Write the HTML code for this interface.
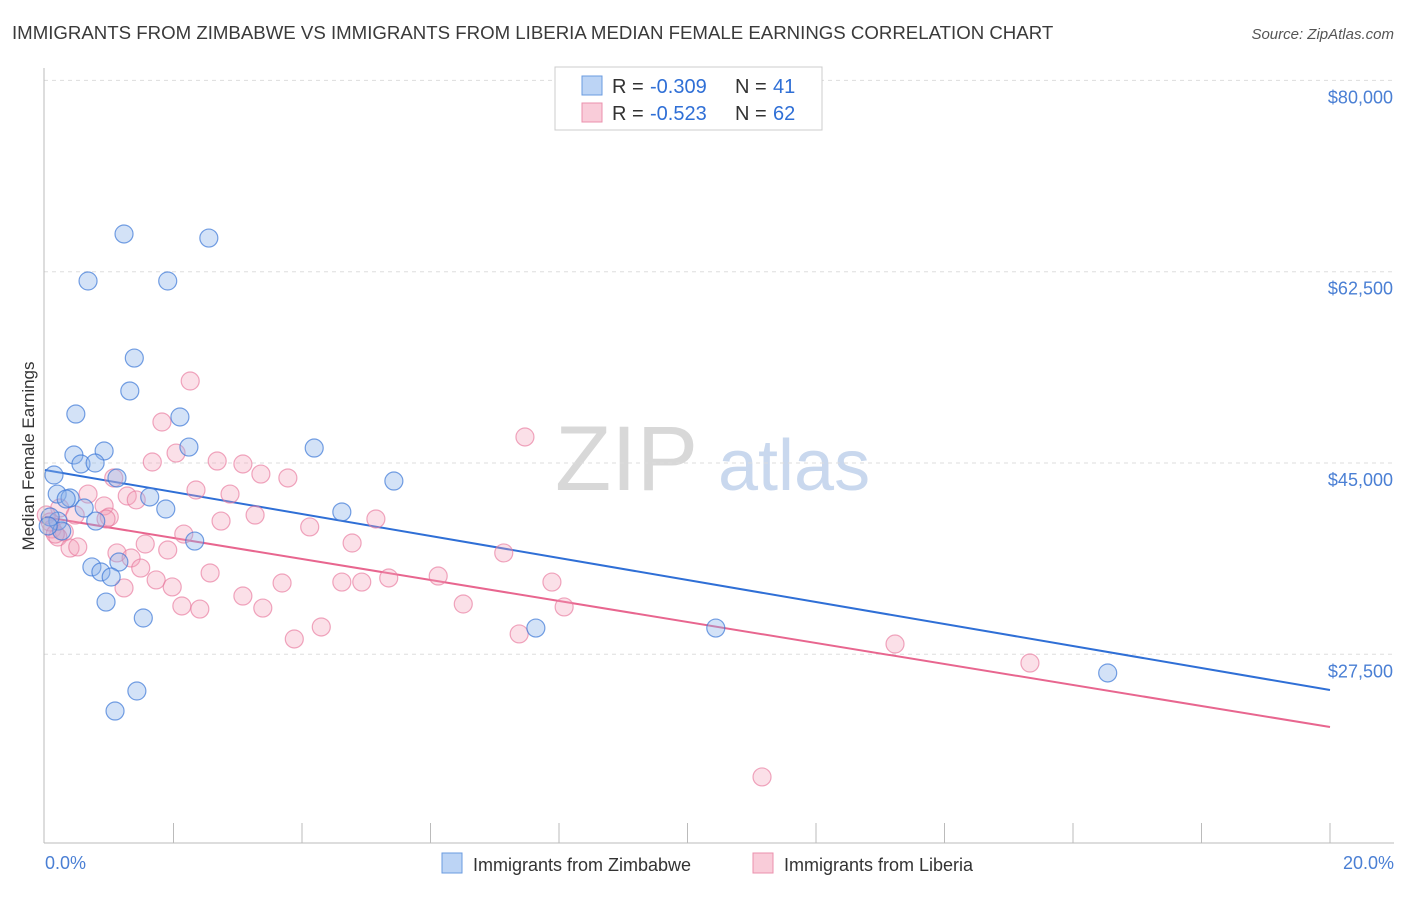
<!DOCTYPE html>
<html><head><meta charset="utf-8"><style>
body{margin:0;background:#fff;font-family:"Liberation Sans",sans-serif}
svg text{font-family:"Liberation Sans",sans-serif}
</style></head><body>
<svg id="chart" width="1406" height="892" xmlns="http://www.w3.org/2000/svg">
<text x="12" y="39" font-size="18.65" fill="#3a3a3a">IMMIGRANTS FROM ZIMBABWE VS IMMIGRANTS FROM LIBERIA MEDIAN FEMALE EARNINGS CORRELATION CHART</text>
<text x="1394" y="39" font-size="15" fill="#555" font-style="italic" text-anchor="end">Source: ZipAtlas.com</text>
<text transform="translate(34,456) rotate(-90)" font-size="17" fill="#333" text-anchor="middle">Median Female Earnings</text>
<g><text x="555" y="490" font-size="92" fill="#d8d8d8" font-family="Liberation Serif">ZIP</text><text x="718" y="490" font-size="72" fill="#c9d8ee">atlas</text></g>
<g id="grid"></g><g id="ticks"></g><g id="trend"></g><g id="pts"></g>
<line x1="44" y1="68" x2="44" y2="843" stroke="#bbb"/>
<line x1="44" y1="843" x2="1394" y2="843" stroke="#bbb"/>
<text x="45" y="869" font-size="18" fill="#4a7fd4">0.0%</text>
<text x="1394" y="869" font-size="18" fill="#4a7fd4" text-anchor="end">20.0%</text>
<g>
<rect x="555" y="67" width="267" height="63" fill="#fff" stroke="#ccc"/>
<rect x="582" y="76" width="20" height="19" fill="#bcd4f5" stroke="#6a9be0"/>
<rect x="582" y="103" width="20" height="19" fill="#f9ccd9" stroke="#eb90ad"/>
<text x="612" y="93" font-size="20" fill="#333">R =</text>
<text x="650" y="93" font-size="20" fill="#2f6fd6">-0.309</text>
<text x="735" y="93" font-size="20" fill="#333">N =</text>
<text x="773" y="93" font-size="20" fill="#2f6fd6">41</text>
<text x="612" y="120" font-size="20" fill="#333">R =</text>
<text x="650" y="120" font-size="20" fill="#2f6fd6">-0.523</text>
<text x="735" y="120" font-size="20" fill="#333">N =</text>
<text x="773" y="120" font-size="20" fill="#2f6fd6">62</text>
</g>
<g>
<rect x="442" y="853" width="20" height="20" fill="#bcd4f5" stroke="#6a9be0"/>
<text x="473" y="871" font-size="18" fill="#333">Immigrants from Zimbabwe</text>
<rect x="753" y="853" width="20" height="20" fill="#f9ccd9" stroke="#eb90ad"/>
<text x="784" y="871" font-size="18" fill="#333">Immigrants from Liberia</text>
</g>
</svg>
<script>
const blueX=[1.23,2.55,0.67,1.91,1.39,1.32,0.48,2.10,0.45,0.92,2.24,4.19,0.56,0.78,0.14,5.43,1.12,0.19,0.39,0.33,1.63,0.61,1.88,4.62,0.20,0.79,0.26,2.33,0.73,1.15,0.87,1.03,0.95,1.53,7.64,10.44,16.54,1.43,1.09,0.08,0.05];
const blueY=[65950,65580,61650,61650,54600,51590,49480,49210,45730,46100,46460,46370,44910,45000,43900,43350,43630,42160,41800,41710,41890,40880,40790,40520,39690,39690,38780,37860,35490,35940,35030,34570,32280,30820,29900,29900,25790,24140,22310,40060,39240];
const pinkX=[2.26,7.47,1.82,2.04,1.67,2.68,3.08,3.36,3.78,1.07,0.67,2.35,2.88,1.28,1.42,0.92,0.23,0.02,0.47,1.00,2.74,3.27,5.15,4.12,2.16,0.11,0.30,0.20,0.39,0.51,1.56,1.91,4.78,1.12,1.34,7.14,1.49,2.57,1.73,1.98,5.35,3.69,4.62,4.93,6.12,7.89,1.23,3.08,2.13,2.41,3.39,6.51,8.08,4.30,3.88,7.38,13.23,15.33,11.16,0.08,0.95,0.16];
const pinkY=[52500,47380,48750,45910,45090,45180,44910,43990,43630,43630,42160,42530,42160,41980,41620,41070,40880,40240,40240,40060,39690,40240,39880,39150,38500,38960,38690,38230,37220,37320,37590,37040,37680,36770,36310,36770,35390,34940,34300,33660,34480,34020,34110,34110,34660,34110,33570,32830,31920,31640,31730,32100,31830,30000,28900,29360,28440,26700,16280,39600,39880,38500];
const blueTrend=[44360,24230];
const pinkTrend=[40060,20850];
const yTicks=[80000,62500,45000,27500];
const yTickLabels=["$80,000","$62,500","$45,000","$27,500"];
const xTicks=[2,4,6,8,10,12,14,16,18,20];
const NS="http://www.w3.org/2000/svg";
const sx=v=>45+v*64.25;
const sy=v=>463-(v-45000)*0.010931;
function mk(t,a,p){const e=document.createElementNS(NS,t);for(const k in a)e.setAttribute(k,a[k]);p.appendChild(e);return e;}
const grid=document.getElementById('grid');
yTicks.forEach((v,i)=>{
 const l=mk('line',{x1:44,x2:1394,y1:sy(v),y2:sy(v),stroke:'#ddd','stroke-dasharray':'4,4'},grid);
 
 
 const t=mk('text',{x:1393,y:sy(v)+23,'font-size':18,fill:'#4a7fd4','text-anchor':'end'},grid);
 t.textContent=yTickLabels[i];
 
 
});
const tk=document.getElementById('ticks');
xTicks.forEach(v=>{
 const l=mk('line',{x1:sx(v),x2:sx(v),y1:823,y2:843,stroke:'#bbb'},tk);
 
 
});
const tr=document.getElementById('trend');
const bl=mk('line',{x1:sx(0),x2:sx(20),y1:sy(blueTrend[0]),y2:sy(blueTrend[1]),stroke:'#2f6fd6','stroke-width':2},tr);


const pl=mk('line',{x1:sx(0),x2:sx(20),y1:sy(pinkTrend[0]),y2:sy(pinkTrend[1]),stroke:'#e8668f','stroke-width':2},tr);


const pts=document.getElementById('pts');
pinkX.forEach((x,i)=>{
 const c=mk('circle',{cx:sx(x),cy:sy(pinkY[i]),r:9,fill:'rgba(244,160,186,0.33)',stroke:'rgba(232,120,156,0.65)','stroke-width':1.2},pts);
 
 
});
blueX.forEach((x,i)=>{
 const c=mk('circle',{cx:sx(x),cy:sy(blueY[i]),r:9,fill:'rgba(140,180,235,0.38)',stroke:'rgba(60,120,215,0.7)','stroke-width':1.2},pts);
 
 
});
</script>
</body></html>
